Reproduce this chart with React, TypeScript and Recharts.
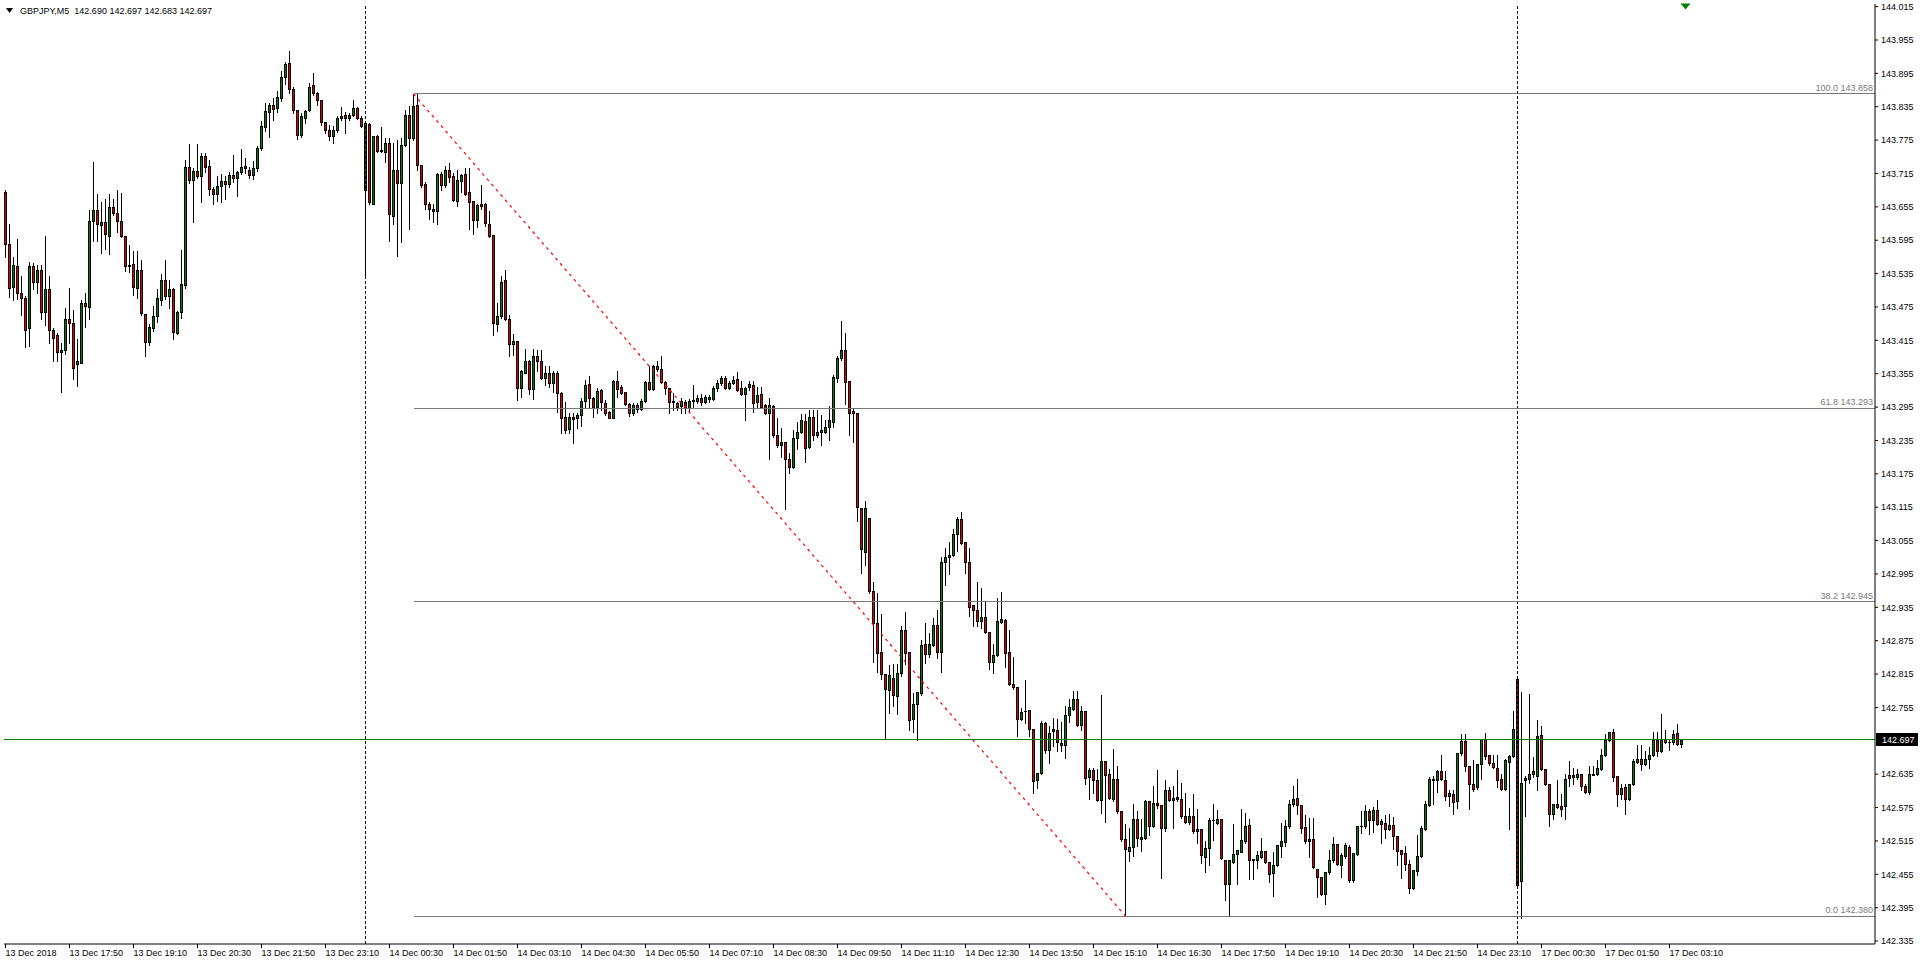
import { ComposedChart, Bar, XAxis, YAxis, ReferenceLine, ReferenceDot } from 'recharts';

// GBPJPY M5, 13 Dec 16:30 -> 17 Dec 03:25 (one entry per 5-minute bar)
const OPEN = [
  143.681, 143.589, 143.511, 143.549, 143.501, 143.492, 143.437, 143.549, 143.520, 143.541,
  143.466, 143.507, 143.434, 143.424, 143.394, 143.398, 143.453, 143.447, 143.373, 143.374,
  143.482, 143.475, 143.629, 143.650, 143.623, 143.627, 143.603, 143.654, 143.644, 143.630,
  143.602, 143.551, 143.553, 143.510, 143.542, 143.463, 143.412, 143.438, 143.458, 143.488,
  143.523, 143.494, 143.507, 143.428, 143.466, 143.515, 143.726, 143.703, 143.719, 143.711,
  143.747, 143.729, 143.687, 143.678, 143.692, 143.702, 143.696, 143.713, 143.707, 143.718,
  143.728, 143.722, 143.713, 143.724, 143.760, 143.799, 143.825, 143.838, 143.832, 143.850,
  143.888, 143.913, 143.866, 143.830, 143.784, 143.815, 143.830, 143.874, 143.860, 143.847,
  143.807, 143.794, 143.783, 143.794, 143.815, 143.820, 143.814, 143.820, 143.832, 143.815,
  143.685, 143.804, 143.661, 143.782, 143.757, 143.754, 143.769, 143.639, 143.721, 143.697,
  143.767, 143.820, 143.779, 143.838, 143.730, 143.696, 143.661, 143.652, 143.648, 143.714,
  143.694, 143.721, 143.710, 143.666, 143.702, 143.714, 143.681, 143.665, 143.631, 143.660,
  143.661, 143.625, 143.604, 143.444, 143.459, 143.523, 143.453, 143.408, 143.413, 143.329,
  143.357, 143.378, 143.327, 143.387, 143.378, 143.347, 143.356, 143.338, 143.356, 143.320,
  143.277, 143.255, 143.278, 143.275, 143.281, 143.306, 143.336, 143.311, 143.296, 143.326,
  143.303, 143.287, 143.276, 143.342, 143.332, 143.323, 143.300, 143.285, 143.299, 143.291,
  143.306, 143.341, 143.327, 143.369, 143.363, 143.341, 143.330, 143.306, 143.302, 143.297,
  143.305, 143.294, 143.306, 143.306, 143.311, 143.305, 143.310, 143.310, 143.330, 143.338,
  143.348, 143.330, 143.339, 143.345, 143.329, 143.318, 143.332, 143.335, 143.305, 143.318,
  143.299, 143.285, 143.297, 143.245, 143.226, 143.232, 143.202, 143.188, 143.239, 143.250,
  143.270, 143.223, 143.277, 143.244, 143.250, 143.251, 143.259, 143.269, 143.348, 143.383,
  143.398, 143.342, 143.288, 143.284, 143.114, 143.035, 143.096, 142.964, 142.907, 142.855,
  142.815, 142.787, 142.808, 142.775, 142.817, 142.894, 142.854, 142.734, 142.761, 142.781,
  142.869, 142.851, 142.867, 142.903, 142.854, 143.016, 143.025, 143.029, 143.066, 143.094,
  143.052, 143.016, 142.939, 142.930, 142.911, 142.917, 142.890, 142.836, 142.849, 142.909,
  142.912, 142.854, 142.797, 142.791, 142.734, 142.748, 142.751, 142.716, 142.624, 142.638,
  142.727, 142.678, 142.712, 142.714, 142.691, 142.688, 142.741, 142.753, 142.771, 142.723,
  142.748, 142.630, 142.642, 142.624, 142.588, 142.658, 142.636, 142.590, 142.626, 142.569,
  142.519, 142.497, 142.504, 142.554, 142.518, 142.521, 142.587, 142.542, 142.584, 142.579,
  142.539, 142.606, 142.593, 142.590, 142.591, 142.560, 142.549, 142.560, 142.532, 142.536,
  142.487, 142.503, 142.552, 142.548, 142.554, 142.481, 142.438, 142.478, 142.492, 142.496,
  142.514, 142.544, 142.482, 142.481, 142.487, 142.497, 142.477, 142.457, 142.471, 142.505,
  142.513, 142.542, 142.581, 142.592, 142.580, 142.540, 142.514, 142.518, 142.465, 142.450,
  142.420, 142.459, 142.481, 142.510, 142.472, 142.488, 142.504, 142.445, 142.492, 142.541,
  142.541, 142.569, 142.552, 142.570, 142.545, 142.548, 142.537, 142.543, 142.524, 142.498,
  142.494, 142.474, 142.431, 142.461, 142.488, 142.536, 142.579, 142.625, 142.625, 142.640,
  142.625, 142.596, 142.600, 142.587, 142.673, 142.695, 142.649, 142.617, 142.612, 142.653,
  142.698, 142.669, 142.656, 142.647, 142.627, 142.609, 142.657, 142.668, 142.807, 142.443,
  142.624, 142.626, 142.640, 142.632, 142.705, 142.645, 142.618, 142.564, 142.581, 142.578,
  142.578, 142.633, 142.630, 142.630, 142.636, 142.614, 142.603, 142.634, 142.636, 142.644,
  142.669, 142.696, 142.711, 142.632, 142.600, 142.612, 142.590, 142.617, 142.657, 142.663,
  142.654, 142.663, 142.669, 142.697, 142.677, 142.699, 142.693, 142.693, 142.709, 142.690,
];

const HIGH = [
  143.685, 143.625, 143.564, 143.598, 143.531, 143.494, 143.555, 143.554, 143.551, 143.551,
  143.602, 143.530, 143.437, 143.428, 143.410, 143.473, 143.509, 143.470, 143.418, 143.488,
  143.501, 143.650, 143.735, 143.678, 143.663, 143.669, 143.678, 143.669, 143.685, 143.680,
  143.602, 143.586, 143.575, 143.576, 143.560, 143.463, 143.445, 143.476, 143.507, 143.534,
  143.560, 143.523, 143.510, 143.468, 143.578, 143.739, 143.768, 143.725, 143.768, 143.752,
  143.752, 143.739, 143.690, 143.711, 143.714, 143.711, 143.717, 143.749, 143.720, 143.759,
  143.742, 143.727, 143.738, 143.764, 143.809, 143.842, 143.842, 143.850, 143.864, 143.899,
  143.916, 143.935, 143.871, 143.830, 143.824, 143.830, 143.878, 143.896, 143.862, 143.847,
  143.808, 143.802, 143.800, 143.818, 143.835, 143.826, 143.823, 143.848, 143.835, 143.818,
  143.807, 143.805, 143.783, 143.785, 143.798, 143.779, 143.779, 143.770, 143.775, 143.778,
  143.829, 143.836, 143.858, 143.858, 143.731, 143.700, 143.664, 143.660, 143.716, 143.717,
  143.728, 143.733, 143.716, 143.721, 143.714, 143.724, 143.724, 143.665, 143.660, 143.694,
  143.662, 143.647, 143.604, 143.483, 143.531, 143.541, 143.461, 143.426, 143.414, 143.362,
  143.399, 143.380, 143.399, 143.398, 143.398, 143.368, 143.368, 143.359, 143.359, 143.322,
  143.305, 143.284, 143.284, 143.284, 143.311, 143.344, 143.350, 143.314, 143.329, 143.327,
  143.308, 143.288, 143.344, 143.360, 143.335, 143.323, 143.303, 143.302, 143.302, 143.309,
  143.342, 143.369, 143.370, 143.378, 143.386, 143.342, 143.330, 143.321, 143.305, 143.311,
  143.308, 143.309, 143.335, 143.317, 143.318, 143.317, 143.317, 143.333, 143.344, 143.350,
  143.350, 143.342, 143.351, 143.358, 143.342, 143.332, 143.342, 143.342, 143.331, 143.331,
  143.300, 143.312, 143.298, 143.275, 143.257, 143.232, 143.212, 143.254, 143.269, 143.283,
  143.283, 143.290, 143.290, 143.290, 143.281, 143.272, 143.297, 143.353, 143.386, 143.449,
  143.428, 143.342, 143.293, 143.284, 143.114, 143.127, 143.096, 142.980, 142.961, 142.923,
  142.815, 142.832, 142.833, 142.833, 142.901, 142.927, 142.855, 142.781, 142.782, 142.876,
  142.906, 142.888, 142.915, 142.931, 143.026, 143.041, 143.053, 143.075, 143.098, 143.106,
  143.052, 143.041, 142.939, 142.981, 142.969, 142.945, 142.890, 142.869, 142.951, 142.963,
  142.914, 142.894, 142.846, 142.791, 142.754, 142.805, 142.751, 142.716, 142.637, 142.730,
  142.728, 142.721, 142.736, 142.735, 142.729, 142.757, 142.771, 142.785, 142.784, 142.757,
  142.748, 142.647, 142.647, 142.645, 142.777, 142.658, 142.645, 142.681, 142.649, 142.569,
  142.546, 142.539, 142.581, 142.569, 142.555, 142.588, 142.587, 142.614, 142.642, 142.580,
  142.624, 142.612, 142.614, 142.642, 142.620, 142.602, 142.575, 142.600, 142.573, 142.536,
  142.514, 142.556, 142.582, 142.571, 142.555, 142.481, 142.480, 142.546, 142.498, 142.573,
  142.565, 142.554, 142.482, 142.497, 142.521, 142.497, 142.477, 142.496, 142.507, 142.547,
  142.553, 142.588, 142.613, 142.626, 142.580, 142.562, 142.556, 142.556, 142.465, 142.450,
  142.459, 142.499, 142.522, 142.510, 142.493, 142.511, 142.507, 142.494, 142.542, 142.569,
  142.579, 142.573, 142.576, 142.588, 142.554, 142.561, 142.563, 142.558, 142.524, 142.498,
  142.506, 142.480, 142.463, 142.525, 142.542, 142.587, 142.630, 142.631, 142.643, 142.669,
  142.640, 142.607, 142.606, 142.673, 142.708, 142.708, 142.649, 142.661, 142.653, 142.699,
  142.709, 142.669, 142.670, 142.670, 142.636, 142.663, 142.669, 142.748, 142.812, 142.782,
  142.631, 142.780, 142.666, 142.733, 142.721, 142.645, 142.618, 142.581, 142.624, 142.600,
  142.636, 142.658, 142.647, 142.645, 142.636, 142.618, 142.649, 142.649, 142.660, 142.681,
  142.708, 142.711, 142.716, 142.632, 142.618, 142.618, 142.617, 142.663, 142.688, 142.688,
  142.676, 142.684, 142.711, 142.711, 142.744, 142.714, 142.699, 142.714, 142.726, 142.697,
];

const LOW = [
  143.565, 143.493, 143.487, 143.490, 143.461, 143.403, 143.405, 143.508, 143.501, 143.454,
  143.443, 143.410, 143.378, 143.378, 143.322, 143.390, 143.410, 143.345, 143.333, 143.374,
  143.439, 143.454, 143.593, 143.593, 143.572, 143.579, 143.571, 143.640, 143.610, 143.600,
  143.539, 143.538, 143.496, 143.492, 143.460, 143.387, 143.406, 143.432, 143.448, 143.478,
  143.490, 143.474, 143.417, 143.426, 143.456, 143.510, 143.697, 143.628, 143.706, 143.664,
  143.718, 143.676, 143.660, 143.666, 143.663, 143.670, 143.690, 143.700, 143.675, 143.714,
  143.715, 143.706, 143.705, 143.720, 143.757, 143.791, 143.781, 143.811, 143.826, 143.845,
  143.876, 143.860, 143.823, 143.777, 143.780, 143.805, 143.827, 143.856, 143.839, 143.802,
  143.787, 143.775, 143.769, 143.790, 143.812, 143.787, 143.811, 143.818, 143.813, 143.799,
  143.530, 143.660, 143.660, 143.754, 143.754, 143.736, 143.593, 143.625, 143.566, 143.591,
  143.765, 143.615, 143.775, 143.721, 143.690, 143.652, 143.634, 143.628, 143.624, 143.685,
  143.690, 143.700, 143.665, 143.656, 143.681, 143.676, 143.615, 143.607, 143.619, 143.651,
  143.620, 143.601, 143.425, 143.432, 143.455, 143.451, 143.386, 143.389, 143.307, 143.314,
  143.356, 143.318, 143.309, 143.359, 143.345, 143.335, 143.332, 143.322, 143.287, 143.248,
  143.249, 143.248, 143.231, 143.257, 143.261, 143.296, 143.293, 143.277, 143.285, 143.290,
  143.281, 143.275, 143.275, 143.313, 143.319, 143.298, 143.279, 143.281, 143.287, 143.290,
  143.304, 143.325, 143.325, 143.360, 143.338, 143.318, 143.284, 143.290, 143.290, 143.284,
  143.284, 143.287, 143.293, 143.302, 143.299, 143.303, 143.305, 143.308, 143.324, 143.335,
  143.328, 143.328, 143.336, 143.324, 143.316, 143.272, 143.326, 143.287, 143.296, 143.294,
  143.283, 143.202, 143.242, 143.224, 143.206, 143.111, 143.176, 143.186, 143.220, 143.248,
  143.197, 143.221, 143.236, 143.242, 143.227, 143.249, 143.235, 143.259, 143.341, 143.380,
  143.301, 143.244, 143.233, 143.090, 142.997, 143.011, 142.960, 142.836, 142.818, 142.806,
  142.700, 142.745, 142.758, 142.743, 142.812, 142.834, 142.715, 142.711, 142.697, 142.778,
  142.835, 142.846, 142.865, 142.844, 142.818, 142.975, 142.995, 143.027, 143.037, 143.049,
  142.996, 142.920, 142.902, 142.902, 142.897, 142.888, 142.824, 142.817, 142.847, 142.907,
  142.827, 142.795, 142.788, 142.703, 142.733, 142.727, 142.704, 142.602, 142.610, 142.636,
  142.673, 142.656, 142.686, 142.677, 142.677, 142.665, 142.729, 142.751, 142.721, 142.715,
  142.618, 142.590, 142.602, 142.586, 142.566, 142.549, 142.590, 142.587, 142.566, 142.515,
  142.380, 142.479, 142.488, 142.505, 142.497, 142.519, 142.525, 142.540, 142.575, 142.449,
  142.533, 142.587, 142.538, 142.586, 142.557, 142.547, 142.546, 142.530, 142.512, 142.475,
  142.460, 142.472, 142.516, 142.545, 142.482, 142.408, 142.381, 142.476, 142.438, 142.495,
  142.512, 142.447, 142.447, 142.466, 142.485, 142.475, 142.441, 142.416, 142.470, 142.487,
  142.505, 142.539, 142.578, 142.564, 142.529, 142.512, 142.486, 142.466, 142.415, 142.417,
  142.402, 142.456, 142.478, 142.472, 142.450, 142.485, 142.442, 142.441, 142.490, 142.530,
  142.539, 142.528, 142.531, 142.543, 142.512, 142.521, 142.535, 142.500, 142.472, 142.448,
  142.463, 142.422, 142.429, 142.454, 142.486, 142.534, 142.577, 142.582, 142.603, 142.625,
  142.588, 142.578, 142.564, 142.575, 142.670, 142.640, 142.573, 142.604, 142.609, 142.627,
  142.663, 142.652, 142.646, 142.612, 142.606, 142.607, 142.537, 142.666, 142.430, 142.376,
  142.560, 142.620, 142.630, 142.606, 142.642, 142.615, 142.542, 142.555, 142.574, 142.560,
  142.555, 142.614, 142.618, 142.627, 142.606, 142.601, 142.600, 142.633, 142.634, 142.642,
  142.667, 142.694, 142.623, 142.578, 142.590, 142.564, 142.588, 142.615, 142.655, 142.642,
  142.652, 142.647, 142.667, 142.667, 142.675, 142.691, 142.678, 142.690, 142.688, 142.683,
];

const CLOSE = [
  143.589, 143.510, 143.551, 143.500, 143.492, 143.434, 143.549, 143.520, 143.541, 143.466,
  143.507, 143.434, 143.420, 143.394, 143.398, 143.453, 143.446, 143.365, 143.377, 143.482,
  143.476, 143.629, 143.650, 143.624, 143.627, 143.607, 143.654, 143.644, 143.630, 143.602,
  143.549, 143.548, 143.511, 143.542, 143.464, 143.412, 143.439, 143.458, 143.491, 143.523,
  143.494, 143.507, 143.430, 143.466, 143.516, 143.727, 143.703, 143.719, 143.711, 143.747,
  143.727, 143.687, 143.679, 143.692, 143.702, 143.696, 143.713, 143.707, 143.718, 143.727,
  143.724, 143.713, 143.724, 143.760, 143.800, 143.827, 143.838, 143.831, 143.852, 143.888,
  143.912, 143.866, 143.830, 143.784, 143.818, 143.827, 143.870, 143.860, 143.848, 143.807,
  143.793, 143.783, 143.794, 143.814, 143.819, 143.814, 143.820, 143.832, 143.815, 143.801,
  143.805, 143.664, 143.782, 143.756, 143.756, 143.769, 143.643, 143.721, 143.697, 143.767,
  143.820, 143.779, 143.836, 143.730, 143.694, 143.661, 143.652, 143.648, 143.714, 143.694,
  143.721, 143.708, 143.667, 143.704, 143.712, 143.679, 143.664, 143.631, 143.658, 143.657,
  143.626, 143.602, 143.446, 143.459, 143.519, 143.453, 143.408, 143.414, 143.330, 143.360,
  143.378, 143.328, 143.387, 143.377, 143.347, 143.356, 143.338, 143.356, 143.320, 143.275,
  143.254, 143.277, 143.273, 143.281, 143.306, 143.335, 143.311, 143.296, 143.324, 143.304,
  143.285, 143.276, 143.342, 143.328, 143.321, 143.300, 143.285, 143.299, 143.291, 143.306,
  143.341, 143.327, 143.369, 143.363, 143.341, 143.329, 143.304, 143.305, 143.296, 143.306,
  143.296, 143.306, 143.308, 143.311, 143.305, 143.313, 143.314, 143.330, 143.339, 143.348,
  143.330, 143.339, 143.344, 143.326, 143.318, 143.330, 143.336, 143.303, 143.317, 143.296,
  143.285, 143.299, 143.244, 143.226, 143.233, 143.202, 143.188, 143.239, 143.250, 143.271,
  143.221, 143.277, 143.244, 143.250, 143.254, 143.260, 143.272, 143.349, 143.383, 143.398,
  143.341, 143.285, 143.284, 143.115, 143.039, 143.114, 142.964, 142.907, 142.853, 142.815,
  142.788, 142.813, 142.777, 142.817, 142.895, 142.852, 142.733, 142.761, 142.782, 142.867,
  142.851, 142.869, 142.903, 142.854, 143.016, 143.025, 143.029, 143.066, 143.094, 143.051,
  143.016, 142.936, 142.930, 142.911, 142.917, 142.890, 142.836, 142.849, 142.911, 142.914,
  142.852, 142.797, 142.791, 142.734, 142.746, 142.748, 142.716, 142.622, 142.637, 142.727,
  142.678, 142.709, 142.716, 142.693, 142.688, 142.741, 142.755, 142.770, 142.723, 142.748,
  142.629, 142.642, 142.625, 142.588, 142.658, 142.633, 142.593, 142.627, 142.569, 142.518,
  142.500, 142.504, 142.554, 142.520, 142.522, 142.587, 142.542, 142.584, 142.579, 142.539,
  142.606, 142.589, 142.588, 142.594, 142.560, 142.549, 142.560, 142.533, 142.536, 142.490,
  142.502, 142.553, 142.552, 142.554, 142.484, 142.438, 142.480, 142.492, 142.498, 142.517,
  142.542, 142.480, 142.481, 142.490, 142.497, 142.478, 142.456, 142.472, 142.507, 142.515,
  142.542, 142.581, 142.590, 142.580, 142.539, 142.514, 142.519, 142.468, 142.450, 142.420,
  142.459, 142.481, 142.510, 142.474, 142.489, 142.507, 142.444, 142.494, 142.542, 142.542,
  142.569, 142.552, 142.570, 142.545, 142.551, 142.536, 142.543, 142.524, 142.497, 142.492,
  142.474, 142.430, 142.463, 142.488, 142.539, 142.582, 142.627, 142.627, 142.640, 142.627,
  142.596, 142.601, 142.585, 142.673, 142.695, 142.649, 142.617, 142.608, 142.653, 142.698,
  142.668, 142.655, 142.648, 142.625, 142.608, 142.661, 142.668, 142.717, 142.436, 142.620,
  142.629, 142.636, 142.636, 142.703, 142.644, 142.618, 142.564, 142.581, 142.576, 142.573,
  142.627, 142.629, 142.633, 142.636, 142.614, 142.603, 142.636, 142.636, 142.646, 142.669,
  142.697, 142.711, 142.630, 142.600, 142.611, 142.591, 142.617, 142.658, 142.663, 142.654,
  142.663, 142.669, 142.697, 142.677, 142.699, 142.693, 142.693, 142.708, 142.690, 142.697,
];

// time axis: one label every 16 bars
const TIME_TICKS = [0, 16, 32, 48, 64, 80, 96, 112, 128, 144, 160, 176, 192, 208, 224, 240, 256, 272, 288, 304, 320, 336, 352, 368, 384, 400, 416];
const TIME_LABELS = [
  '13 Dec 2018', '13 Dec 17:50', '13 Dec 19:10', '13 Dec 20:30', '13 Dec 21:50', '13 Dec 23:10',
  '14 Dec 00:30', '14 Dec 01:50', '14 Dec 03:10', '14 Dec 04:30', '14 Dec 05:50', '14 Dec 07:10',
  '14 Dec 08:30', '14 Dec 09:50', '14 Dec 11:10', '14 Dec 12:30', '14 Dec 13:50', '14 Dec 15:10',
  '14 Dec 16:30', '14 Dec 17:50', '14 Dec 19:10', '14 Dec 20:30', '14 Dec 21:50', '14 Dec 23:10',
  '17 Dec 00:30', '17 Dec 01:50', '17 Dec 03:10',
];
const PRICE_TICKS = [
  142.335, 142.395, 142.455, 142.515, 142.575, 142.635, 142.755, 142.815, 142.875, 142.935,
  142.995, 143.055, 143.115, 143.175, 143.235, 143.295, 143.355, 143.415, 143.475, 143.535,
  143.595, 143.655, 143.715, 143.775, 143.835, 143.895, 143.955, 144.015,
];

const DAY_BREAKS = [90, 378];
const FIB_RATIOS = ['100.0', '61.8', '38.2', '0.0'];
const FIB_PRICES = [143.858, 143.293, 142.945, 142.380];
const FIB_FROM = { i: 102, price: 143.858 };
const FIB_TO = { i: 280, price: 142.380 };
const BID = 142.697;
const SHIFT_MARK = { i: 420, price: 144.015 };
const HEADER = 'GBPJPY,M5  142.690 142.697 142.683 142.697';

const X_DOMAIN: [number, number] = [-0.375, 467.375];
const Y_DOMAIN: [number, number] = [142.3297, 144.0197];
const FONT = "'Liberation Sans', Arial, sans-serif";
const UP = '#008000';
const DOWN = '#e00000';

const bars = OPEN.map((o, i) => ({ i, o, h: HIGH[i], l: LOW[i], c: CLOSE[i], hl: [LOW[i], HIGH[i]] }));

function Candle(props: any) {
  const { x, y, width, height, payload } = props;
  if (x == null || !payload) return null;
  const { o, h, l, c } = payload;
  const cx = Math.floor(x + width / 2) + 0.5;
  const k = h > l ? height / (h - l) : 0;
  const py = (v: number) => y + (h - v) * k;
  const top = Math.round(py(Math.max(o, c)));
  const bot = Math.round(py(Math.min(o, c)));
  const yHi = Math.round(y);
  const yLo = Math.round(y + height);
  return (
    <g shapeRendering="crispEdges">
      <line x1={cx} x2={cx} y1={yHi} y2={yLo + 1} stroke="#000" />
      {bot - top < 1 ? (
        <line x1={cx - 1.5} x2={cx + 1.5} y1={top + 0.5} y2={top + 0.5} stroke="#000" />
      ) : (
        <rect x={cx - 1} y={top + 0.5} width={2} height={bot - top} fill={c > o ? UP : DOWN} stroke="#000" />
      )}
    </g>
  );
}

function TimeTick({ x, y, payload }: any) {
  const k = TIME_TICKS.indexOf(payload.value);
  return (
    <text x={x} y={y + 8} fontSize={9} fontFamily={FONT} fill="#000" textAnchor="start">
      {TIME_LABELS[k]}
    </text>
  );
}

function FibLabel({ viewBox, text }: any) {
  if (!viewBox) return null;
  return (
    <text x={viewBox.x + viewBox.width - 2} y={viewBox.y - 3} fontSize={9} fontFamily={FONT} fill="#7a7a7a" textAnchor="end">
      {text}
    </text>
  );
}

function BidLabel({ viewBox }: any) {
  if (!viewBox) return null;
  const x = viewBox.x + viewBox.width + 1;
  const y = Math.round(viewBox.y);
  return (
    <g>
      <rect x={x} y={y - 7} width={42} height={13} fill="#000" />
      <text x={x + 6} y={y + 3} fontSize={9} fontFamily={FONT} fill="#fff">{BID.toFixed(3)}</text>
    </g>
  );
}

function ShiftMark({ cx, cy }: any) {
  return <polygon points={`${cx - 5},${cy - 3} ${cx + 5},${cy - 3} ${cx},${cy + 3}`} fill={UP} />;
}

export default function App() {
  return (
    <div style={{ position: 'absolute', left: 0, top: 0, width: 1920, height: 967, background: '#fff', overflow: 'hidden' }}>
      <ComposedChart width={1920} height={967} data={bars} margin={{ top: 4, right: 0, bottom: 0, left: 4 }}>
        <XAxis
          dataKey="i"
          type="number"
          domain={X_DOMAIN}
          allowDataOverflow
          ticks={TIME_TICKS}
          interval={0}
          height={23}
          tickSize={4}
          tickMargin={0}
          axisLine={{ stroke: '#000' }}
          tickLine={{ stroke: '#000' }}
          tick={<TimeTick />}
        />
        <XAxis xAxisId="frame" orientation="top" type="number" domain={X_DOMAIN} allowDataOverflow height={0} tick={false} tickLine={false} axisLine={{ stroke: '#000' }} />
        <YAxis
          orientation="right"
          type="number"
          domain={Y_DOMAIN}
          allowDataOverflow
          ticks={PRICE_TICKS}
          interval={0}
          width={45}
          tickSize={3}
          tickMargin={3}
          axisLine={{ stroke: '#000' }}
          tickLine={{ stroke: '#000' }}
          tick={{ fontSize: 9, fill: '#000', fontFamily: FONT }}
          tickFormatter={(v: number) => v.toFixed(3)}
        />
        <YAxis yAxisId="frame" orientation="left" type="number" domain={Y_DOMAIN} allowDataOverflow width={0} tick={false} tickLine={false} axisLine={{ stroke: '#000' }} />

        {DAY_BREAKS.map((d) => (
          <ReferenceLine key={d} x={d} stroke="#000" strokeDasharray="3 2" shapeRendering="crispEdges" />
        ))}
        {FIB_PRICES.map((p, k) => (
          <ReferenceLine
            key={p}
            segment={[{ x: FIB_FROM.i, y: p }, { x: X_DOMAIN[1], y: p }]}
            stroke="#787878"
            shapeRendering="crispEdges"
            label={<FibLabel text={`${FIB_RATIOS[k]} ${p.toFixed(3)}`} />}
          />
        ))}
        <ReferenceLine
          segment={[{ x: FIB_FROM.i, y: FIB_FROM.price }, { x: FIB_TO.i, y: FIB_TO.price }]}
          stroke="#ff0000"
          strokeWidth={1.2}
          strokeDasharray="3 4"
        />
        <ReferenceLine y={BID} stroke="#007a00" shapeRendering="crispEdges" label={<BidLabel />} />

        <Bar dataKey="hl" barSize={3} shape={<Candle />} isAnimationActive={false} />

        <ReferenceDot x={SHIFT_MARK.i} y={SHIFT_MARK.price} r={0} ifOverflow="visible" shape={<ShiftMark />} />
      </ComposedChart>

      <div style={{ position: 'absolute', left: 6, top: 6, fontFamily: FONT, fontSize: 9, color: '#000', whiteSpace: 'pre', display: 'flex', alignItems: 'center' }}>
        <svg width={8} height={6} style={{ marginRight: 6 }}>
          <polygon points="0,0 7,0 3.5,5" fill="#000" />
        </svg>
        {HEADER}
      </div>
    </div>
  );
}
